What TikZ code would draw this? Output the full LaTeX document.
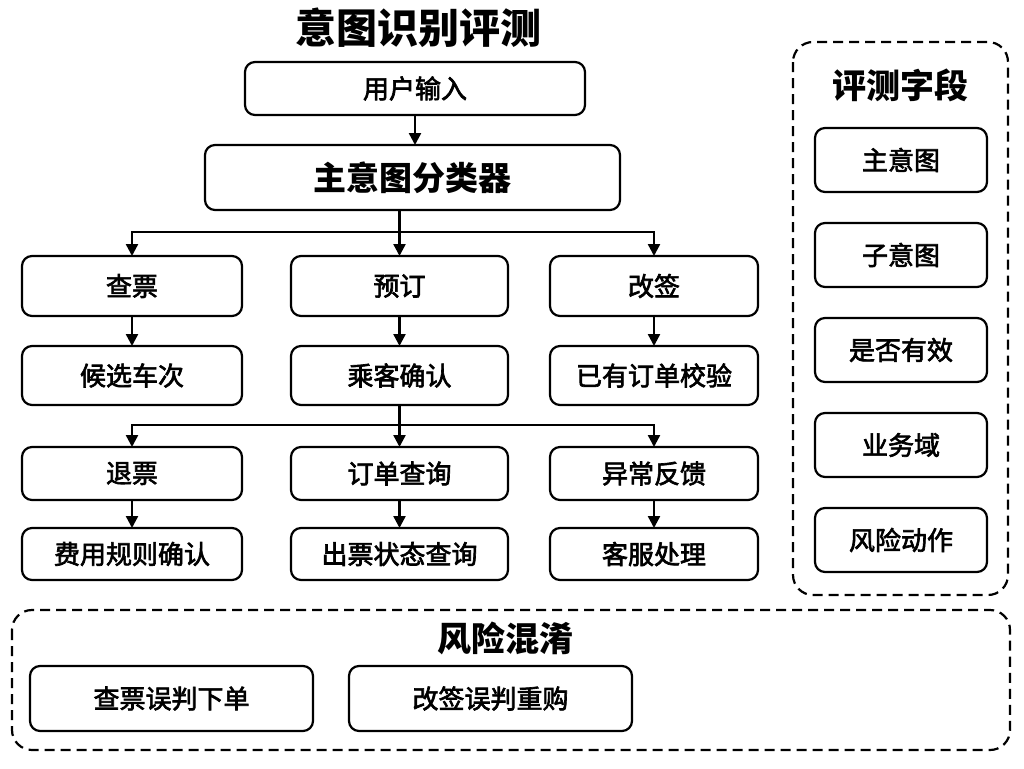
\documentclass[tikz,border=0pt]{standalone}
\usepackage{fontspec}
\setmainfont{Noto Sans CJK SC}
\newfontfamily\labelfont{Noto Sans CJK SC}[FakeBold=2.5]
\usetikzlibrary{arrows.meta,positioning}

\begin{document}
\begin{tikzpicture}
  [x=1pt,y=-1pt,
   >={Triangle[length=12pt,width=12pt]},
   box/.style={rectangle,draw,line width=2.2pt,rounded corners=10pt,
               inner sep=0pt,outer sep=0pt,font=\labelfont\fontsize{26}{30}\selectfont},
   heading/.style={inner sep=0pt,font=\fontsize{34}{40}\selectfont\bfseries},
   frame/.style={draw,line width=2.2pt,dash pattern=on 10pt off 6pt,
                 rounded corners=20pt},
   link/.style={line width=2.4pt},
   colA/.style={minimum width=220pt},
   colB/.style={minimum width=217pt},
   colC/.style={minimum width=208pt},
   tall/.style={minimum height=60pt},
   short/.style={minimum height=53pt}]
  \useasboundingbox (0,0) rectangle (1024,768);

  % flow
  \node[heading,font=\fontsize{41}{48}\selectfont\bfseries] (title) at (418,28) {意图识别评测};
  \node[box,minimum width=340pt,short] (input) at (415,88.5) {用户输入};
  \node[box,minimum width=415pt,minimum height=65pt,
        font=\fontsize{33}{40}\selectfont\bfseries] (clf) at (412.5,177.5) {主意图分类器};

  \node[box,colA,tall] (chapiao)  at (132,286)             {查票};
  \node[box,colB,tall] (yuding)   [right=49pt of chapiao] {预订};
  \node[box,colC,tall] (gaiqian)  [right=42pt of yuding]  {改签};
  \node[box,colA,minimum height=59pt] (houxuan)  at (132,375.5) {候选车次};
  \node[box,colB,minimum height=59pt] (chengke)  [right=49pt of houxuan] {乘客确认};
  \node[box,colC,minimum height=59pt] (jiaoyan)  [right=42pt of chengke] {已有订单校验};
  \node[box,colA,short] (tuipiao) at (132,473.5)            {退票};
  \node[box,colB,short] (dingdan) [right=49pt of tuipiao] {订单查询};
  \node[box,colC,short] (yichang) [right=42pt of dingdan] {异常反馈};
  \node[box,colA,minimum height=52pt] (feiyong) at (132,554) {费用规则确认};
  \node[box,colB,minimum height=52pt] (chupiao) [right=49pt of feiyong] {出票状态查询};
  \node[box,colC,minimum height=52pt] (kefu)    [right=42pt of chupiao] {客服处理};

  \coordinate (bus1) at (yuding.north |- 0,232);
  \coordinate (bus2) at (yuding.north |- 0,425);

  \draw[link,->] (input) -- (input |- clf.north);
  \draw[link] (clf.south -| yuding) -- (bus1);
  \draw[link,->] (bus1) -| (chapiao.north);
  \draw[link,->] (bus1) -| (gaiqian.north);
  \draw[link,->] (bus1) -- (yuding.north);
  \draw[link,->] (chapiao) -- (houxuan);
  \draw[link,->] (yuding) -- (chengke);
  \draw[link,->] (gaiqian) -- (jiaoyan);
  \draw[link] (chengke.south) -- (bus2);
  \draw[link,->] (bus2) -| (tuipiao.north);
  \draw[link,->] (bus2) -| (yichang.north);
  \draw[link,->] (bus2) -- (dingdan.north);
  \draw[link,->] (tuipiao) -- (feiyong);
  \draw[link,->] (dingdan) -- (chupiao);
  \draw[link,->] (yichang) -- (kefu);

  % fields
  \draw[frame] (793,42) rectangle (1008,595);
  \node[heading] (fields) at (900,85) {评测字段};
  \node[box,minimum width=172pt,minimum height=64pt] (zhu) at (901,160) {主意图};
  \node[box,minimum width=172pt,minimum height=64pt] (zi)     [below=31pt of zhu]    {子意图};
  \node[box,minimum width=172pt,minimum height=64pt] (youxiao) [below=31pt of zi]   {是否有效};
  \node[box,minimum width=172pt,minimum height=64pt] (yewu)   [below=31pt of youxiao] {业务域};
  \node[box,minimum width=172pt,minimum height=64pt] (fengxian) [below=31pt of yewu] {风险动作};

  % confusion
  \draw[frame] (12,610) rectangle (1010,750);
  \node[heading] (hunxiao) at (505,638) {风险混淆};
  \node[box,minimum width=283pt,minimum height=65pt] (wupan1) at (171.5,698.5) {查票误判下单};
  \node[box,minimum width=283pt,minimum height=65pt] (wupan2) [right=36pt of wupan1] {改签误判重购};
\end{tikzpicture}
\end{document}
